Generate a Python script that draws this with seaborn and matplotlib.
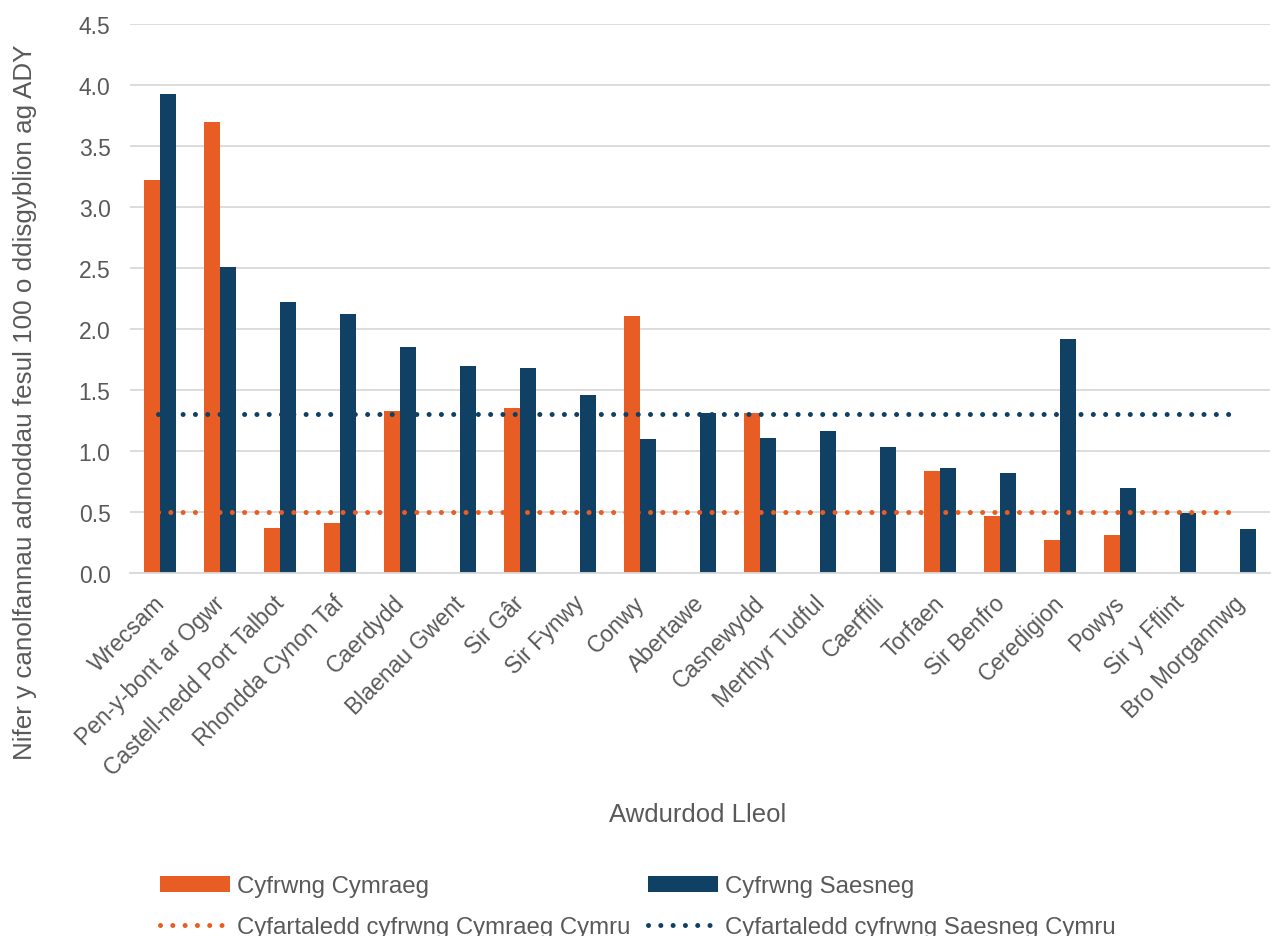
import matplotlib
matplotlib.use("Agg")
import matplotlib.pyplot as plt
import matplotlib.transforms as mtransforms
import seaborn as sns
import pandas as pd
import numpy as np
from matplotlib.lines import Line2D
from matplotlib.patches import Patch

categories = ["Wrecsam", "Pen-y-bont ar Ogwr", "Castell-nedd Port Talbot", "Rhondda Cynon Taf",
              "Caerdydd", "Blaenau Gwent", "Sir Gâr", "Sir Fynwy", "Conwy", "Abertawe",
              "Casnewydd", "Merthyr Tudful", "Caerffili", "Torfaen", "Sir Benfro",
              "Ceredigion", "Powys", "Sir y Fflint", "Bro Morgannwg"]
cymraeg = [3.22, 3.70, 0.37, 0.41, 1.33, 0.0, 1.35, 0.0, 2.11, 0.0,
           1.31, 0.0, 0.0, 0.84, 0.47, 0.27, 0.31, 0.0, 0.0]
saesneg = [3.93, 2.51, 2.22, 2.12, 1.85, 1.70, 1.68, 1.46, 1.10, 1.31,
           1.11, 1.16, 1.03, 0.86, 0.82, 1.92, 0.70, 0.49, 0.36]
avg_cymraeg = 0.5
avg_saesneg = 1.3
series_names = ["Cyfrwng Cymraeg", "Cyfrwng Saesneg"]
avg_names = ["Cyfartaledd cyfrwng Cymraeg Cymru", "Cyfartaledd cyfrwng Saesneg Cymru"]
yticks = [0.0, 0.5, 1.0, 1.5, 2.0, 2.5, 3.0, 3.5, 4.0, 4.5]

ORANGE = "#E85D23"
NAVY = "#104063"
TXT = "#595959"
GRID = "#D9D9D9"

df = pd.DataFrame({
    "cat": categories * 2,
    "val": cymraeg + saesneg,
    "series": [series_names[0]] * len(categories) + [series_names[1]] * len(categories),
})

sns.set_theme(style="white")
plt.rcParams["font.family"] = ["Liberation Sans", "DejaVu Sans"]

fig = plt.figure(figsize=(12.75, 9.37), dpi=100)
ax = fig.add_axes([130/1275, 1-574/937, (1270-130)/1275, (574-25)/937])

sns.barplot(data=df, x="cat", y="val", hue="series", order=categories,
            hue_order=series_names, palette=[ORANGE, NAVY], width=0.54, gap=0,
            saturation=1, ax=ax, legend=False, edgecolor="none", linewidth=0)

n = len(categories)
dot = dict(linewidth=3.6, linestyle=(0, (0.01, 2.45)), dash_capstyle="round")
ax.plot([-0.03, n - 1.02], [avg_cymraeg, avg_cymraeg], color=ORANGE, zorder=3, **dot)
ax.plot([-0.03, n - 1.02], [avg_saesneg, avg_saesneg], color=NAVY, zorder=3, **dot)

ax.set_xlim(-0.5, n - 0.5)
ax.set_ylim(0, 4.5)
ax.set_yticks(yticks)
ax.set_yticklabels([f"{v:.1f}" for v in yticks], color=TXT, fontsize=16.5)
ax.yaxis.grid(True, color=GRID, linewidth=1.3)
ax.set_axisbelow(True)
for s in ["top", "right", "left"]:
    ax.spines[s].set_visible(False)
ax.spines["bottom"].set_color(GRID)
ax.spines["bottom"].set_linewidth(1.3)
ax.tick_params(axis="y", length=0, pad=14)

ax.set_xticks(range(n))
ax.set_xticklabels(categories, rotation=45, ha="right", rotation_mode="anchor",
                   color=TXT, fontsize=16.5)
ax.tick_params(axis="x", which="major", length=0, pad=13)
offset = mtransforms.ScaledTranslation(-0.07, 0.0, fig.dpi_scale_trans)
for lab in ax.get_xticklabels():
    lab.set_transform(lab.get_transform() + offset)
ax.set_xticks(np.arange(-0.5, n, 1.0), minor=True)
ax.tick_params(axis="x", which="minor", length=6, color=GRID, width=1.3, direction="out")
ax.set_xlabel("")
ax.set_ylabel("")

fig.text(25/1275, 1-402/937, "Nifer y canolfannau adnoddau fesul 100 o ddisgyblion ag ADY",
         rotation=90, ha="center", va="center", color=TXT, fontsize=18.7)
fig.text(698/1275, 1-815/937, "Awdurdod Lleol", ha="center", va="center",
         color=TXT, fontsize=18.5)

handles = [
    Patch(facecolor=ORANGE, edgecolor="none"),
    Line2D([0], [0], color=ORANGE, **dot),
    Patch(facecolor=NAVY, edgecolor="none"),
    Line2D([0], [0], color=NAVY, **dot),
]
labels = [series_names[0], avg_names[0], series_names[1], avg_names[1]]
fig.legend(handles, labels, loc="upper left", bbox_to_anchor=(160/1275, 1-876/937),
           ncol=2, frameon=False, fontsize=17.3, labelcolor=TXT, handlelength=2.9,
           handleheight=0.65, handletextpad=0.3, columnspacing=0.75, labelspacing=0.78,
           borderaxespad=0, borderpad=0)

fig.savefig("out.png", dpi=100)
